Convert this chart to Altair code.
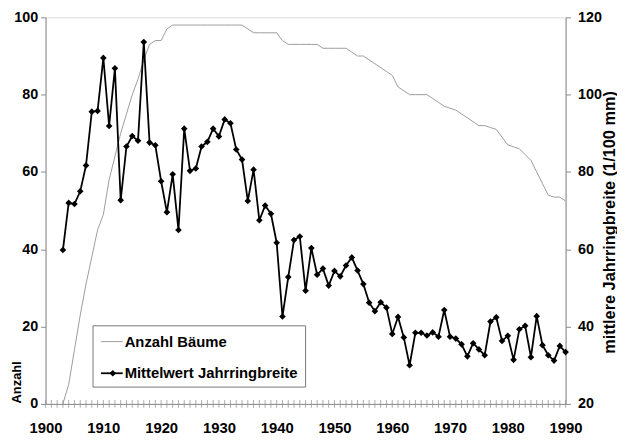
import altair as alt
import pandas as pd

years = list(range(1903, 1991))
anzahl = [0, 5, 14, 23, 31, 38, 45, 49, 58, 64,
          70, 75, 80, 84, 89, 93, 94, 94, 97, 98,
          98, 98, 98, 98, 98, 98, 98, 98, 98, 98,
          98, 98, 97, 96, 96, 96, 96, 96, 94, 93,
          93, 93, 93, 93, 93, 92, 92, 92, 92, 92,
          91, 90, 90, 89, 88, 87, 86, 85, 82, 81,
          80, 80, 80, 80, 79, 78, 77, 76.5, 76, 75,
          74, 73, 72, 72, 71.5, 71, 69, 67, 66.5, 66,
          64.5, 63, 60, 57, 54, 53.5, 53.5, 52.5]
jahrring = [59.8, 72.0, 71.7, 75.0, 81.7, 95.6, 95.8, 109.5, 91.9, 106.8,
            72.7, 86.6, 89.3, 88.1, 113.6, 87.6, 86.9, 77.6, 69.6, 79.4,
            65.0, 91.2, 80.3, 80.9, 86.6, 87.8, 91.2, 89.2, 93.6, 92.6,
            85.8, 83.2, 72.5, 80.6, 67.5, 71.3, 69.2, 61.7, 42.6, 52.8,
            62.4, 63.3, 49.3, 60.3, 53.4, 55.0, 50.6, 54.4, 53.0, 55.8,
            57.9, 54.5, 51.0, 46.2, 44.0, 46.3, 44.9, 38.1, 42.5, 37.2,
            30.0, 38.4, 38.4, 37.7, 38.5, 37.4, 44.3, 37.4, 36.9, 35.4,
            32.3, 35.7, 34.1, 32.6, 41.3, 42.4, 36.3, 37.6, 31.4, 39.3,
            40.2, 32.1, 42.7, 35.2, 32.6, 31.2, 35.0, 33.4]
decade_labels = list(range(1900, 1991, 10))
tick_years = list(range(1900, 1991))
left_ticks = [0, 20, 40, 60, 80, 100]
right_ticks = [20, 40, 60, 80, 100, 120]
legend_labels = ["Anzahl Bäume", "Mittelwert Jahrringbreite"]

FONT = "Liberation Sans"
AX = "#8a8a8a"
W, H = 526, 391

df = pd.DataFrame({"Jahr": years, "Anzahl": anzahl, "Breite": jahrring})
ticks_df = pd.DataFrame({"Jahr": tick_years})

xscale = alt.Scale(domain=[1900, 1990], nice=False, zero=False)
xenc = alt.X("Jahr:Q", scale=xscale,
             axis=alt.Axis(values=decade_labels, format="d", title=None, grid=False,
                           ticks=False, labelPadding=17, labelFontSize=15,
                           labelFontWeight="bold", labelFont=FONT, labelColor="black",
                           domainColor=AX, labelFlush=False))

gray = alt.Chart(df).mark_line(color="#9c9c9c", strokeWidth=1).encode(
    x=xenc,
    y=alt.Y("Anzahl:Q", scale=alt.Scale(domain=[0, 100], nice=False),
            axis=alt.Axis(values=left_ticks, title="Anzahl", grid=False, orient="left",
                          tickSize=5, tickColor=AX, domainColor=AX, labelPadding=3,
                          labelFontSize=14.5, labelFontWeight="bold", labelFont=FONT,
                          labelColor="black", titleFont=FONT, titleFontSize=13,
                          titleFontWeight="bold", titleColor="black", titleAngle=270,
                          titleAlign="left", titleBaseline="middle", titleX=-29,
                          titleY=390)),
)

black = alt.Chart(df).mark_line(
    color="black", strokeWidth=1.8,
    point=alt.OverlayMarkDef(shape="diamond", filled=True, size=45, color="black"),
).encode(
    x=alt.X("Jahr:Q", scale=xscale),
    y=alt.Y("Breite:Q", scale=alt.Scale(domain=[20, 120], nice=False, zero=False),
            axis=alt.Axis(values=right_ticks, title="mittlere Jahrringbreite (1/100 mm)",
                          grid=False, orient="right", tickSize=5, tickColor=AX,
                          domainColor=AX, labelPadding=7, labelFontSize=14.5,
                          labelFontWeight="bold", labelFont=FONT, labelColor="black",
                          titleFont=FONT, titleFontSize=16.5, titleFontWeight="bold",
                          titleColor="black", titleAngle=270, titleAlign="center",
                          titleBaseline="middle", titleX=44, titleY=207)),
)

xticks = alt.Chart(ticks_df).mark_tick(color=AX, thickness=1, size=8).encode(
    x=alt.X("Jahr:Q", scale=xscale), y=alt.value(H)
)

leg_box = alt.Chart(pd.DataFrame({"a": [0]})).mark_rect(
    fill="white", stroke="#777777", strokeWidth=1
).encode(x=alt.value(48), x2=alt.value(263), y=alt.value(312), y2=alt.value(374))

leg_df = pd.DataFrame({"label": legend_labels, "row": [0, 1]})
leg_text = alt.Chart(leg_df).mark_text(
    align="left", baseline="middle", font=FONT, fontSize=15, fontWeight="bold", color="black"
).encode(text="label:N", x=alt.value(80),
         y=alt.Y("row:O", scale=alt.Scale(range=[328, 360], padding=0), axis=None))
leg_line1 = alt.Chart(leg_df.iloc[[0]]).mark_rule(color="#9c9c9c", strokeWidth=1).encode(
    x=alt.value(56), x2=alt.value(78), y=alt.value(328))
leg_line2 = alt.Chart(leg_df.iloc[[1]]).mark_rule(color="black", strokeWidth=1.8).encode(
    x=alt.value(56), x2=alt.value(78), y=alt.value(360))
leg_pt = alt.Chart(leg_df.iloc[[1]]).mark_point(shape="diamond", filled=True, size=45,
                                                color="black", opacity=1).encode(
    x=alt.value(68), y=alt.value(360))

chart = alt.layer(gray, black, xticks, leg_box, leg_line1, leg_line2, leg_pt, leg_text).resolve_scale(
    y="independent"
).properties(
    width=W, height=H,
    autosize=alt.AutoSizeParams(type="none"),
    padding={"left": 38, "top": 7, "right": 52, "bottom": 29},
).configure_view(stroke=None).configure(background="white")

chart.save("out.html", embed_options={"renderer": "svg", "actions": False})
